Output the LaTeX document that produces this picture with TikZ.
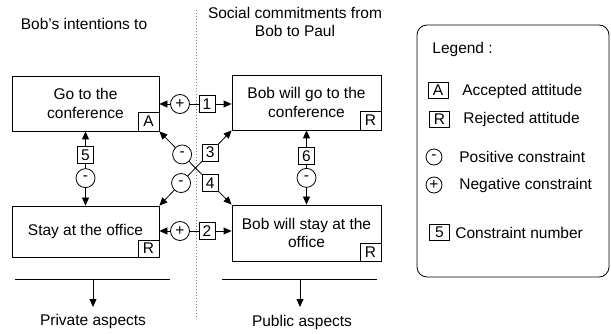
\documentclass[tikz,border=0pt]{standalone}
\usepackage{fontspec}
\setmainfont{Liberation Sans}
\usetikzlibrary{arrows.meta}
\begin{document}
\begin{tikzpicture}[x=1pt,y=-1pt,
  every node/.style={font=\fontsize{15.5}{18.5}\selectfont},
  line width=0.8pt,
  mainbox/.style={draw, inner sep=0pt, align=center},
  tag/.style={draw, fill=white, minimum width=21pt, minimum height=19pt, inner sep=0pt},
  ltag/.style={draw, fill=white, minimum width=20pt, minimum height=16pt, inner sep=0pt},
  numbox/.style={draw, fill=white, minimum width=16pt, minimum height=17pt, inner sep=0pt},
  cst/.style={draw, circle, fill=white, minimum size=19pt, inner sep=0pt},
  lcst/.style={draw, circle, fill=white, minimum size=16pt, inner sep=0pt},
  lbl/.style={anchor=west, inner sep=0pt},
  arr/.style={-{Triangle[length=8pt,width=7pt]}},
  dbl/.style={{Triangle[length=8pt,width=7pt]}-{Triangle[length=8pt,width=7pt]}}]
\useasboundingbox (0,0) rectangle (611,334);

% separator
\draw[gray, dotted, line width=1pt] (196,10) -- (196,317);

% headings
\node (h1) at (84,24) {Bob's intentions to};
\node[align=center] (h2) at (295,22) {Social commitments from\\Bob to Paul};

% main boxes
\node[mainbox, minimum width=147pt, minimum height=55pt] (goconf) at (85.5,103.5) {Go to the\\conference};
\node[mainbox, minimum width=149pt, minimum height=55pt] (bobgo) at (306.5,102.5) {Bob will go to the\\conference};
\node[mainbox, minimum width=147pt, minimum height=51pt] (stay) at (85.5,231.5) {Stay at the office};
\node[mainbox, minimum width=149pt, minimum height=56pt] (bobstay) at (306.5,233) {Bob will stay at the\\office};

% attitude tags
\node[tag, anchor=south east] (tA) at (goconf.south east) {A};
\node[tag, anchor=south east] (tR1) at (bobgo.south east) {R};
\node[tag, anchor=south east, minimum height=17pt] (tR2) at (stay.south east) {R};
\node[tag, anchor=south east, minimum height=18pt] (tR3) at (bobstay.south east) {R};

% constraint 1
\node[cst] (p1) at (180,104) {+};
\node[numbox] (n1) at (207,104) {1};
\draw[arr] (p1) -- (goconf.east|-p1);
\draw (p1) -- (n1);
\draw[arr] (n1) -- (bobgo.west|-n1);

% constraint 2
\node[cst] (p2) at (180,231) {+};
\node[numbox] (n2) at (207,231) {2};
\draw[arr] (p2) -- (stay.east|-p2);
\draw (p2) -- (n2);
\draw[arr] (n2) -- (bobstay.west|-n2);

% constraints 3 and 4
\draw[dbl] (goconf.south east) -- node[pos=.315,cst] (m4) {-} node[pos=.705,numbox] (n4) {4} (bobstay.north west);
\draw[dbl] (stay.north east) -- node[pos=.30,cst] (m3) {-} node[pos=.705,numbox] (n3) {3} (bobgo.south west);

% constraints 5 and 6
\draw[dbl] (goconf.south) -- node[pos=.32,numbox] (n5) {5} node[pos=.63,cst] (m5) {-} (stay.north);
\draw[dbl] (bobgo.south) -- node[pos=.35,numbox] (n6) {6} node[pos=.64,cst] (m6) {-} (bobstay.north);

% aspects
\coordinate (bl1) at (15,279);
\coordinate (bl2) at (170,279);
\coordinate (blm) at (93,279);
\coordinate (blt) at (93,307);
\draw (bl1) -- (bl2);
\draw[arr] (blm) -- (blt);
\node (priv) at (93,321) {Private aspects};

\coordinate (br1) at (222,279);
\coordinate (br2) at (377,279);
\coordinate (brm) at (300,279);
\coordinate (brt) at (300,307);
\draw (br1) -- (br2);
\draw[arr] (brm) -- (brt);
\node (pub) at (302,322) {Public aspects};

% legend
\node[draw, rounded corners=10pt, minimum width=192pt, minimum height=252pt, inner sep=0pt] (legend) at (513,151) {};
\node[lbl] (lt) at (432,49) {Legend :};
\node[ltag] (lA) at (438,90.5) {A};
\node[lbl] (lAt) at (462,91) {Accepted attitude};
\node[ltag] (lR) at (439.5,119.5) {R};
\node[lbl] (lRt) at (463,119.5) {Rejected attitude};
\node[lcst] (lm) at (434,157) {-};
\node[lbl] (lmt) at (459,157) {Positive constraint};
\node[lcst] (lp) at (434,185) {+};
\node[lbl] (lpt) at (459,185) {Negative constraint};
\node[ltag] (ln) at (439.5,232.5) {5};
\node[lbl] (lnt) at (455,232.5) {Constraint number};
\end{tikzpicture}
\end{document}
